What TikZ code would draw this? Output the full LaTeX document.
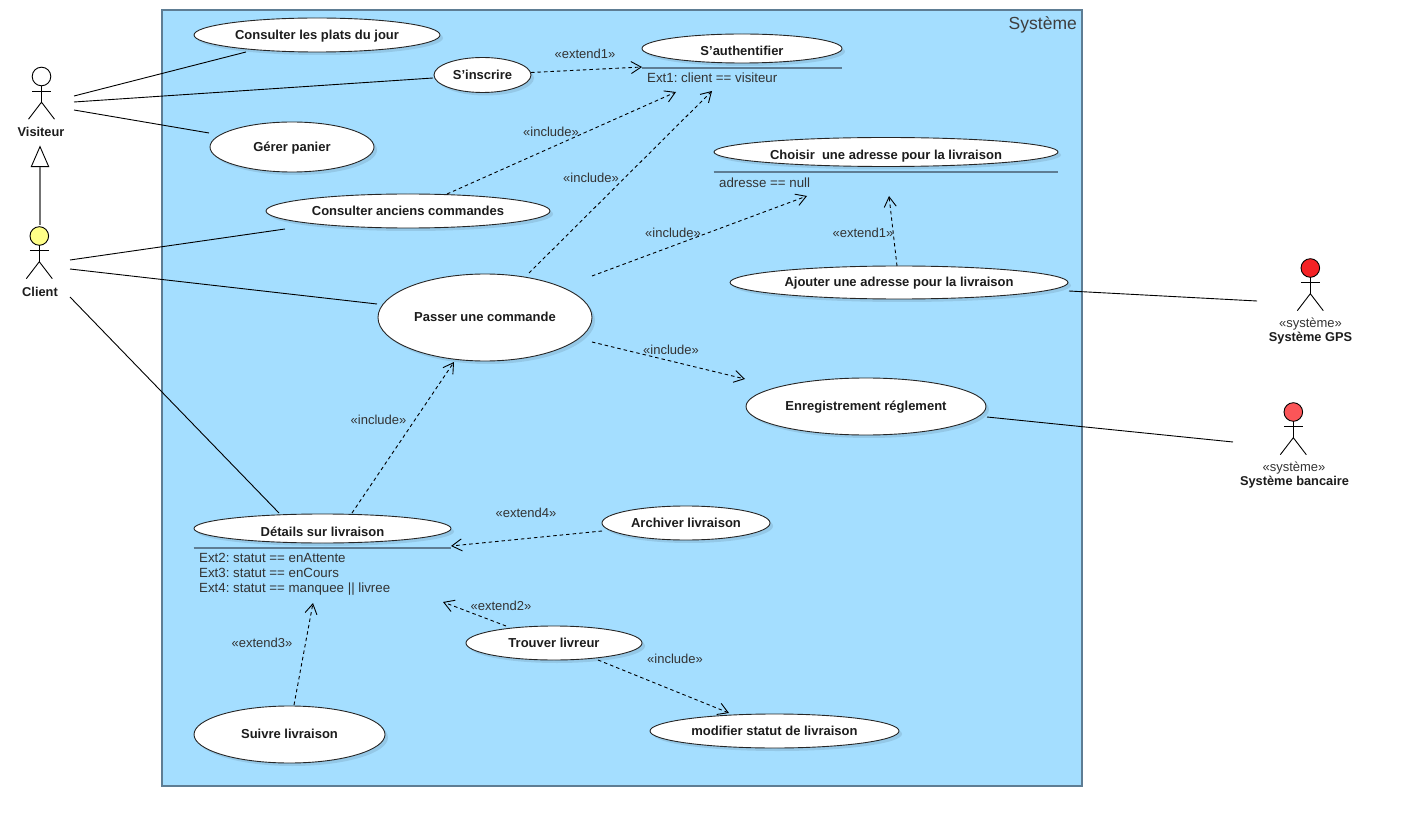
\documentclass[tikz,border=0pt]{standalone}
\usepackage{fontspec}
\setmainfont{Liberation Sans}
\usetikzlibrary{shapes.geometric,arrows.meta,shadows}
\frenchspacing
\definecolor{sysfill}{HTML}{A4DEFF}
\definecolor{sysline}{HTML}{5E7D94}
\definecolor{ink}{HTML}{1C1C1C}
\definecolor{stereo}{HTML}{333333}
\definecolor{actorred}{HTML}{F52225}
\definecolor{actorrose}{HTML}{FB5558}
\definecolor{actoryellow}{HTML}{FFFF88}
\tikzset{
  usecase/.style={ellipse,draw=black!85,line width=.9pt,fill=white,inner sep=0pt,
    text height=11.5pt,text depth=3pt,text=ink,
    font=\fontsize{13}{15}\selectfont\bfseries,
    drop shadow={shadow xshift=3pt,shadow yshift=-3pt,fill=sysline,opacity=.22}},
  rule/.style={draw=sysline,line width=1.3pt},
  cond/.style={anchor=west,inner sep=0pt,text height=11.5pt,text depth=3pt,text=stereo,font=\fontsize{13.3}{15}\selectfont},
  tagtext/.style={inner sep=0pt,text height=11.5pt,text depth=3pt,text=stereo,font=\fontsize{13}{15}\selectfont},
  actorname/.style={inner sep=0pt,text height=11.5pt,text depth=3pt,text=ink,font=\fontsize{12.8}{15}\selectfont\bfseries},
  assoc/.style={draw=black,line width=.9pt},
  depend/.style={draw=black,line width=.9pt,dash pattern=on 3.5pt off 3pt,-{Straight Barb[length=10pt,width=12pt,line width=.9pt]}},
  gen/.style={draw=black!55,line width=1.6pt},
  stick/.style={draw=black,line width=.9pt},
}
% name, head x, head y, colour
\newcommand{\stickfigure}[4]{%
  \node[circle,draw=black,line width=.9pt,fill=#4,minimum size=18.6pt,inner sep=0pt] (#1) at (#2,#3) {};
  \draw[stick] (#2,#3+9.3) -- (#2,#3+25.7);
  \draw[stick] (#2-9.5,#3+14.5) -- (#2+9.5,#3+14.5);
  \draw[stick] (#2-13,#3+42.7) -- (#2,#3+25.7) -- (#2+13,#3+42.7);
}
\begin{document}
\begin{tikzpicture}[x=1pt,y=-1pt]
\useasboundingbox (0,0) rectangle (1403,826);
\fill[white] (0,0) rectangle (1403,826);
\node[draw=sysline,line width=2pt,fill=sysfill,minimum width=920pt,minimum height=776pt,inner sep=0pt] (sys) at (622,398) {};
\node[anchor=east,inner sep=0pt,text=ink!85,font=\fontsize{17.5}{20}\selectfont] (systitle) at (1077,25) {Système};

% use cases
\node[usecase,minimum width=246pt,minimum height=34pt] (plats) at (317,35) {Consulter les plats du jour};
\node[usecase,minimum width=97pt,minimum height=35pt] (inscrire) at (482.5,75) {S'inscrire};
\node[usecase,minimum width=200pt,minimum height=29pt] (auth) at (742,48.5) {\raisebox{-3pt}{S'authentifier}};
\node[usecase,minimum width=164pt,minimum height=50pt] (panier) at (292,147) {Gérer panier};
\node[usecase,minimum width=344pt,minimum height=29pt] (choisir) at (886,152) {\raisebox{-3.5pt}{Choisir\ \ une adresse pour la livraison}};
\node[usecase,minimum width=284pt,minimum height=34pt] (anciens) at (408,211) {Consulter anciens commandes};
\node[usecase,minimum width=338pt,minimum height=33pt] (ajouter) at (899,282.5) {Ajouter une adresse pour la livraison};
\node[usecase,minimum width=214pt,minimum height=87pt] (passer) at (485,317.5) {Passer une commande};
\node[usecase,minimum width=240pt,minimum height=57pt] (enreg) at (866,406.5) {Enregistrement réglement};
\node[usecase,minimum width=257pt,minimum height=29pt] (details) at (322.5,528.5) {\raisebox{-3.5pt}{Détails sur livraison}};
\node[usecase,minimum width=168pt,minimum height=34pt] (archiver) at (686,523) {Archiver livraison};
\node[usecase,minimum width=176pt,minimum height=34pt] (trouver) at (554,643) {Trouver livreur};
\node[usecase,minimum width=191pt,minimum height=57pt] (suivre) at (289.5,734.5) {Suivre livraison};
\node[usecase,minimum width=249pt,minimum height=34pt] (modifier) at (774.5,731) {modifier statut de livraison};

% extension-point rules and conditions
\draw[rule] (auth.west |- 0,68) -- (auth.east |- 0,68);
\draw[rule] (choisir.west |- 0,172) -- (choisir.east |- 0,172);
\draw[rule] (details.west |- 0,548) -- (details.east |- 0,548);
\node[cond] (c1) at (647,78.5) {Ext1: client == visiteur};
\node[cond] (c2) at (719,183) {adresse == null};
\node[cond] (c3) at (199,558.5) {Ext2: statut == enAttente};
\node[cond] (c4) at (199,573.5) {Ext3: statut == enCours};
\node[cond] (c5) at (199,588.5) {Ext4: statut == manquee || livree};

% actors
\stickfigure{visiteur}{41.5}{76.5}{white}
\stickfigure{client}{39.3}{236}{actoryellow}
\stickfigure{gps}{1310.3}{268}{actorred}
\stickfigure{banque}{1293.3}{412}{actorrose}
\node[actorname] (visiteurT) at (41,132) {Visiteur};
\node[actorname] (clientT) at (40,292.5) {Client};
\node[tagtext] (gpsS) at (1310.5,323) {«système»};
\node[actorname] (gpsT) at (1310.5,337.5) {Système GPS};
\node[tagtext] (banqueS) at (1294,467) {«système»};
\node[actorname] (banqueT) at (1294.5,481.5) {Système bancaire};

% generalisation
\coordinate (genfoot) at (40,225);
\node[isosceles triangle,isosceles triangle apex angle=47,isosceles triangle stretches,shape border rotate=90,draw=black,line width=.9pt,fill=white,inner sep=0pt,minimum width=17.4pt,minimum height=20pt,anchor=apex] (gentip) at (40,145.5) {};
\draw[gen] (genfoot) -- (gentip.south);

% association ends
\coordinate (v1) at (74,96);   \coordinate (p1) at (246,52);
\coordinate (v2) at (74,102);  \coordinate (p2) at (433,78);
\coordinate (v3) at (74,110);  \coordinate (p3) at (209,133);
\coordinate (k1) at (70,260);  \coordinate (q1) at (285,229);
\coordinate (k2) at (70,269);  \coordinate (q2) at (377,304);
\coordinate (k3) at (70,297);  \coordinate (q3) at (279,513);
\coordinate (g1) at (1069,291);\coordinate (g2) at (1257,301);
\coordinate (b1) at (987,417); \coordinate (b2) at (1233,442);
\draw[assoc] (v1) -- (p1);
\draw[assoc] (v2) -- (p2);
\draw[assoc] (v3) -- (p3);
\draw[assoc] (k1) -- (q1);
\draw[assoc] (k2) -- (q2);
\draw[assoc] (k3) -- (q3);
\draw[assoc] (g1) -- (g2);
\draw[assoc] (b1) -- (b2);

% dependency ends
\coordinate (d1a) at (531,72.5); \coordinate (d1b) at (642,67);
\coordinate (d2a) at (447,194);  \coordinate (d2b) at (676,92);
\coordinate (d3a) at (529,273);  \coordinate (d3b) at (712,91);
\coordinate (d4a) at (592,276);  \coordinate (d4b) at (807,196);
\coordinate (d5a) at (897,266);  \coordinate (d5b) at (889,196);
\coordinate (d6a) at (592,342);  \coordinate (d6b) at (745,379);
\coordinate (d7a) at (352,513);  \coordinate (d7b) at (454,362);
\coordinate (d8a) at (602,531);  \coordinate (d8b) at (451,546);
\coordinate (d9a) at (506,626);  \coordinate (d9b) at (443,602);
\coordinate (d10a) at (598,660); \coordinate (d10b) at (729,713);
\coordinate (d11a) at (294,705); \coordinate (d11b) at (313,603);
\foreach \n in {1,...,11} \draw[depend] (d\n a) -- (d\n b);

% dependency labels
\node[tagtext] (t1) at (585,54) {«extend1»};
\node[tagtext] (t2) at (551,132) {«include»};
\node[tagtext] (t3) at (591,178) {«include»};
\node[tagtext] (t4) at (673,233) {«include»};
\node[tagtext] (t5) at (863,233) {«extend1»};
\node[tagtext] (t6) at (671,350) {«include»};
\node[tagtext] (t7) at (378.5,420) {«include»};
\node[tagtext] (t8) at (526,513) {«extend4»};
\node[tagtext] (t9) at (501,606) {«extend2»};
\node[tagtext] (t10) at (675,659) {«include»};
\node[tagtext] (t11) at (262,643) {«extend3»};
\end{tikzpicture}
\end{document}
